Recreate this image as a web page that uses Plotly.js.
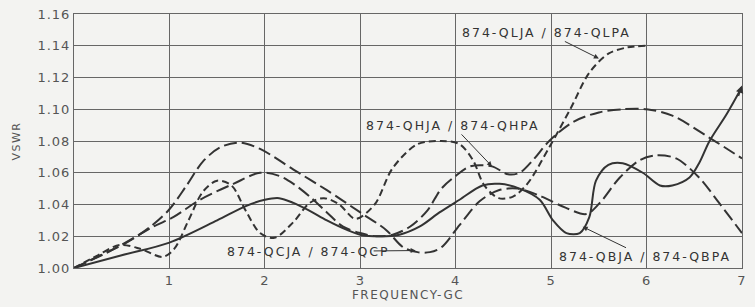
<!DOCTYPE html>
<html>
<head>
<meta charset="utf-8">
<script src="https://cdn.plot.ly/plotly-3.0.1.min.js"></script>
<style>
html,body{margin:0;padding:0;background:#f3f3f1;}
#chart{width:755px;height:307px;}
#chart .annotation-text{letter-spacing:2px;}
#chart .xtick text,#chart .ytick text{letter-spacing:1px;}
#chart .g-xtitle text,#chart .g-ytitle text{letter-spacing:1.5px;}
</style>
</head>
<body>
<div id="chart"></div>
<script>
// QLJA / QLPA (short dash)
const qlX = [0, 0.25, 0.48, 0.7, 0.93, 1.05, 1.2, 1.35, 1.5, 1.65, 1.8, 1.95, 2.1, 2.3, 2.47, 2.62, 2.78, 2.95, 3.15, 3.34, 3.6, 3.85, 4.04, 4.18, 4.3, 4.45, 4.6, 4.75, 4.98, 5.2, 5.4, 5.6, 5.8, 6.0];
const qlY = [1.0, 1.008, 1.0145, 1.012, 1.007, 1.012, 1.03, 1.048, 1.055, 1.052, 1.036, 1.022, 1.019, 1.029, 1.041, 1.044, 1.04, 1.031, 1.04, 1.063, 1.078, 1.08, 1.078, 1.068, 1.052, 1.044, 1.045, 1.053, 1.076, 1.1, 1.123, 1.135, 1.139, 1.14];
// QHJA / QHPA (long dash)
const qhX = [0, 0.48, 0.83, 1.04, 1.32, 1.67, 1.95, 2.15, 2.3, 2.47, 2.65, 2.82, 3.0, 3.17, 3.34, 3.52, 3.7, 3.85, 4.0, 4.15, 4.38, 4.55, 4.67, 4.81, 4.98, 5.23, 5.5, 5.75, 6.0, 6.27, 6.66, 7.0];
const qhY = [1.0, 1.014, 1.026, 1.032, 1.043, 1.053, 1.06, 1.058, 1.053, 1.045, 1.035, 1.026, 1.022, 1.02, 1.021, 1.026, 1.036, 1.05, 1.058, 1.064, 1.064, 1.059, 1.06, 1.068, 1.08, 1.092, 1.098, 1.1, 1.1, 1.096, 1.082, 1.069];
// QCJA / QCP (long dash)
const qcX = [0, 0.55, 0.8, 1.0, 1.18, 1.35, 1.53, 1.74, 1.95, 2.3, 2.65, 3.0, 3.27, 3.45, 3.6, 3.73, 3.85, 4.04, 4.25, 4.45, 4.65, 4.9, 5.15, 5.37, 5.51, 5.72, 5.93, 6.1, 6.31, 6.55, 6.76, 7.0];
const qcY = [1.0, 1.016, 1.026, 1.037, 1.052, 1.067, 1.076, 1.079, 1.075, 1.062, 1.049, 1.035, 1.024, 1.013, 1.01, 1.01, 1.013, 1.027, 1.042, 1.049, 1.05, 1.045, 1.038, 1.034, 1.041, 1.057, 1.068, 1.071, 1.069, 1.057, 1.041, 1.022];
// QBJA / QBPA (solid)
const qbX = [0, 0.5, 1.0, 1.5, 1.8, 2.0, 2.15, 2.3, 2.47, 2.65, 2.86, 3.0, 3.2, 3.41, 3.62, 3.83, 4.04, 4.28, 4.46, 4.67, 4.88, 5.02, 5.16, 5.3, 5.4, 5.47, 5.6, 5.75, 5.96, 6.14, 6.27, 6.45, 6.55, 6.66, 6.84, 7.0];
const qbY = [1.0, 1.008, 1.016, 1.03, 1.039, 1.043, 1.044, 1.041, 1.036, 1.03, 1.024, 1.021, 1.02, 1.021, 1.026, 1.035, 1.043, 1.052, 1.053, 1.05, 1.043, 1.03, 1.022, 1.022, 1.032, 1.055, 1.065, 1.066, 1.06, 1.052, 1.052, 1.057, 1.066, 1.08, 1.097, 1.114];

const yTicks = [1.00, 1.02, 1.04, 1.06, 1.08, 1.10, 1.12, 1.14, 1.16];
const yTickText = ["1.00", "1.02", "1.04", "1.06", "1.08", "1.10", "1.12", "1.14", "1.16"];
const xTicks = [1, 2, 3, 4, 5, 6, 7];
const xTickText = ["1", "2", "3", "4", "5", "6", "7"];

const lineCol = '#333333';
function tr(x, y, dash, w) {
  return {x: x, y: y, mode: 'lines', type: 'scatter', hoverinfo: 'skip',
    line: {color: lineCol, width: w, dash: dash, shape: 'spline', smoothing: 0.9}};
}
const data = [
  tr(qlX, qlY, '7px,4px', 2),
  tr(qhX, qhY, '13px,5px', 2),
  tr(qcX, qcY, '13px,5px', 2),
  tr(qbX, qbY, 'solid', 2)
];

const fnt = {family: 'DejaVu Sans, sans-serif', size: 12.5, color: '#333'};
const tickFnt = {family: 'DejaVu Sans, sans-serif', size: 13, color: '#555'};
const layout = {
  width: 755, height: 307,
  margin: {l: 74, r: 13, t: 14, b: 39},
  paper_bgcolor: '#f3f3f1', plot_bgcolor: '#f3f3f1',
  showlegend: false,
  xaxis: {range: [0, 7], tickvals: xTicks, ticktext: xTickText, showgrid: true, gridcolor: '#666', gridwidth: 1,
    zeroline: false, showline: true, linecolor: '#666', linewidth: 1, mirror: true, ticks: '',
    tickfont: tickFnt,
    title: {text: 'FREQUENCY-GC', font: {family: 'DejaVu Sans, sans-serif', size: 12, color: '#555'}, standoff: 3}},
  yaxis: {range: [1.0, 1.16], tickvals: yTicks, ticktext: yTickText, showgrid: true, gridcolor: '#666', gridwidth: 1,
    zeroline: false, showline: true, linecolor: '#666', linewidth: 1, mirror: true, ticks: '',
    tickfont: tickFnt,
    title: {text: 'VSWR', font: {family: 'DejaVu Sans, sans-serif', size: 11, color: '#555'}, standoff: 18}},
  annotations: [
    {x: 5.5, y: 1.132, xref: 'x', yref: 'y', text: '874-QLJA / 874-QLPA', showarrow: true, arrowhead: 2, arrowsize: 1, arrowwidth: 1, arrowcolor: lineCol,
      ax: -52, ay: -26, font: fnt},
    {x: 4.38, y: 1.064, xref: 'x', yref: 'y', text: '874-QHJA / 874-QHPA', showarrow: true, arrowhead: 2, arrowsize: 1, arrowwidth: 1, arrowcolor: lineCol,
      ax: -39, ay: -41, font: fnt},
    {x: 3.58, y: 1.011, xref: 'x', yref: 'y', text: '874-QCJA / 874-QCP', showarrow: true, arrowhead: 2, arrowsize: 1, arrowwidth: 1, arrowcolor: lineCol,
      ax: -107, ay: 1, font: fnt},
    {x: 5.33, y: 1.026, xref: 'x', yref: 'y', text: '874-QBJA / 874-QBPA', showarrow: true, arrowhead: 2, arrowsize: 1, arrowwidth: 1, arrowcolor: lineCol,
      ax: 62, ay: 30, font: fnt},
    {x: 7.0, y: 1.115, xref: 'x', yref: 'y', text: '', showarrow: true, arrowhead: 2, arrowsize: 1, arrowwidth: 1.5, arrowcolor: lineCol, ax: -4, ay: 12}
  ]
};
Plotly.newPlot('chart', data, layout, {staticPlot: true});
</script>
</body>
</html>
